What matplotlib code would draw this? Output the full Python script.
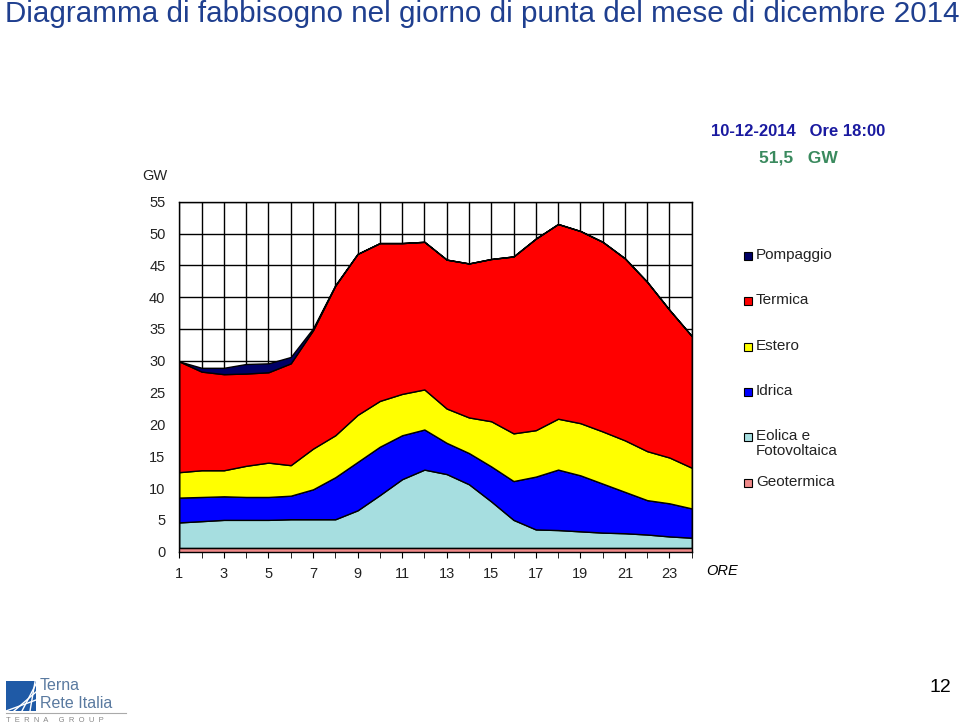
import matplotlib
matplotlib.use('Agg')
import matplotlib.pyplot as plt
from matplotlib.patches import Rectangle

##data
hours = list(range(1, 25))
geotermica = [0.6]*24
eolica = [4.0, 4.2, 4.4, 4.4, 4.4, 4.5, 4.5, 4.5, 5.9, 8.3, 10.8, 12.3,
          11.6, 10.0, 7.3, 4.4, 2.9, 2.8, 2.6, 2.4, 2.3, 2.1, 1.8, 1.6]
idrica = [3.9, 3.8, 3.7, 3.6, 3.6, 3.7, 4.7, 6.6, 7.6, 7.6, 6.9, 6.3,
          4.9, 4.9, 5.5, 6.1, 8.3, 9.5, 8.8, 7.7, 6.5, 5.4, 5.2, 4.6]
estero = [4.0, 4.2, 4.1, 4.9, 5.4, 4.8, 6.4, 6.6, 7.4, 7.2, 6.5, 6.3,
          5.4, 5.6, 7.1, 7.5, 7.3, 8.0, 8.2, 8.2, 8.1, 7.7, 7.2, 6.4]
termica = [17.4, 15.5, 15.1, 14.5, 14.2, 16.0, 18.6, 23.5, 25.3, 24.8, 23.7, 23.2,
           23.4, 24.2, 25.5, 27.8, 30.1, 30.6, 30.2, 29.8, 28.6, 26.6, 23.2, 20.7]
pompaggio = [0.0, 0.6, 1.0, 1.5, 1.4, 1.0, 0.3, 0.1, 0, 0, 0, 0,
             0, 0, 0, 0, 0, 0, 0, 0, 0, 0, 0, 0]

names = ['Pompaggio', 'Termica', 'Estero', 'Idrica', 'Eolica e\nFotovoltaica', 'Geotermica']
colors = ['#000066', '#FF0000', '#FFFF00', '#0000FF', '#A6DEE0', '#F08A8A']
xtick_labels = [str(h) for h in range(1, 24, 2)]

plt.rcParams['font.family'] = ['Liberation Sans', 'DejaVu Sans']

fig = plt.figure(figsize=(9.59, 7.28), dpi=100)
ax = fig.add_axes([0.187, 0.2422, 0.5343, 0.4807])

ax.stackplot(hours, geotermica, eolica, idrica, estero, termica, pompaggio,
             colors=colors[::-1], edgecolor='black', linewidth=1, zorder=3)

ax.set_xlim(1, 24)
ax.set_ylim(0, 55)
ax.set_yticks(range(0, 56, 5))
ax.set_xticks(range(1, 24, 2))
ax.set_xticklabels(xtick_labels)
ax.set_xticks(hours, minor=True)
ax.grid(True, which='both', color='black', linewidth=1, zorder=0)
ax.set_axisbelow(True)
ax.tick_params(axis='y', length=0, labelsize=10.5, pad=10, labelcolor='#222222')
ax.tick_params(axis='x', which='both', length=4, direction='out', labelsize=10.5, pad=7,
               labelcolor='#222222')
for s in ax.spines.values():
    s.set_color('black')
    s.set_linewidth(1)

fig.text(155/959, 1-176/728, 'GW', fontsize=10.5, ha='center', va='center', color='#222222')
fig.text(722/959, 1-571/728, 'ORE', fontsize=10.5, style='italic', ha='center', va='center')

fig.text(5/959, 1-14/728, 'Diagramma di fabbisogno nel giorno di punta del mese di dicembre 2014',
         fontsize=21.3, color='#1F3F8F', ha='left', va='center',
         family=['Liberation Sans Narrow', 'Liberation Sans'])
fig.text(798/959, 1-132/728, '10-12-2014   Ore 18:00', fontsize=12, fontweight='bold',
         color='#1A1AA0', ha='center', va='center')
fig.text(798/959, 1-158/728, '51,5   GW', fontsize=12.5, fontweight='bold',
         color='#3A8A5E', ha='center', va='center')

# legend
leg_y = [256, 301, 347, 392, 437, 483]
for name, col, yy in zip(names, colors, leg_y):
    fig.patches.append(Rectangle((744/959, 1-(yy+4)/728), 8/959, 8/728, facecolor=col,
                                 edgecolor='black', linewidth=0.8, transform=fig.transFigure))
    fig.text(756/959, 1-(yy-8)/728, name, fontsize=11, ha='left', va='top', linespacing=1.1,
             color='#222222')

# page number and logo
fig.text(940/959, 1-688/728, '12', fontsize=14, ha='center', va='center')
fig.patches.append(Rectangle((6/959, 1-711/728), 30/959, 30/728, facecolor='#1F5AA6',
                             edgecolor='none', transform=fig.transFigure))
for k in range(4):
    fig.lines.append(plt.Line2D([(6+k*8)/959, (36)/959], [1-711/728, 1-(700-k*8)/728],
                                color='white', linewidth=1, transform=fig.transFigure))
fig.text(40/959, 1-685/728, 'Terna', fontsize=11.5, color='#5A7AA0', ha='left', va='center')
fig.text(40/959, 1-703/728, 'Rete Italia', fontsize=11.5, color='#5A7AA0', ha='left', va='center')
fig.lines.append(plt.Line2D([6/959, 126/959], [1-713/728, 1-713/728], color='#AAAAAA',
                            linewidth=0.8, transform=fig.transFigure))
fig.text(6/959, 1-720/728, 'T  E  R  N  A     G  R  O  U  P', fontsize=5.5, color='#888888',
         ha='left', va='center')

fig.savefig('out.png', dpi=100, facecolor='white')
